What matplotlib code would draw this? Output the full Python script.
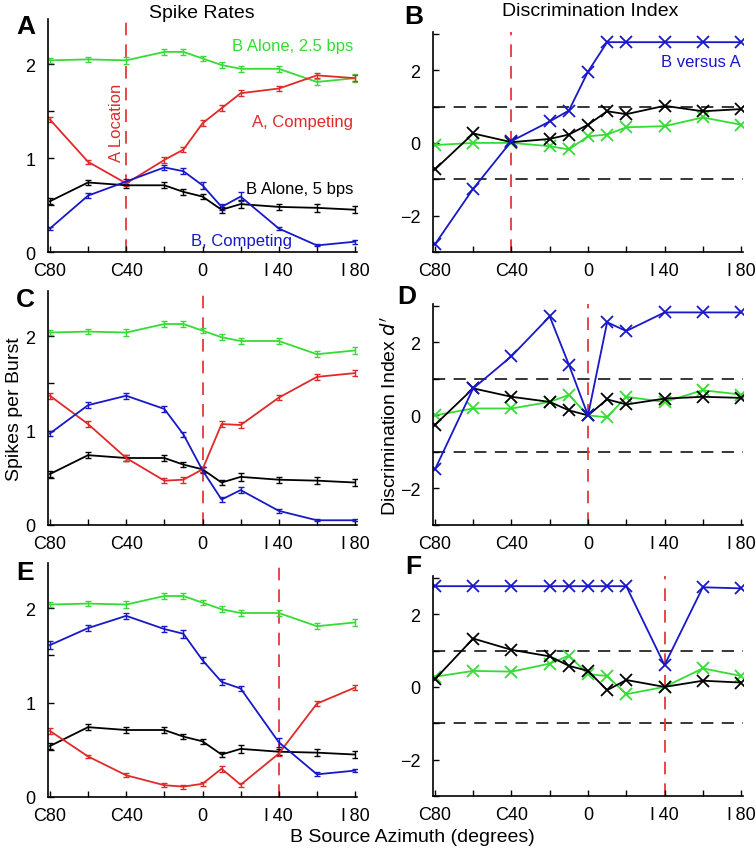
import numpy as np
import matplotlib
matplotlib.use("Agg")
import matplotlib.pyplot as plt

plt.rcParams['font.family'] = ['Liberation Sans', 'DejaVu Sans']

# azimuths of source B (negative = contralateral "C", positive = ipsilateral "I")
azim = [-80, -60, -40, -20, -10, 0, 10, 20, 40, 60, 80]
xtick_pos = [-80, -60, -40, -20, 0, 20, 40, 60, 80]
xtick_lab = ['C80', '', 'C40', '', '0', '', 'I\u200940', '', 'I\u200980']
a_location = [-40, 0, 40]

# B alone (same in every row)
b_alone_25 = [2.04, 2.05, 2.04, 2.13, 2.13, 2.06, 1.99, 1.95, 1.95, 1.81, 1.85]
b_alone_25_err = [0.03, 0.03, 0.04, 0.03, 0.03, 0.03, 0.03, 0.03, 0.03, 0.03, 0.04]
b_alone_5 = [0.54, 0.74, 0.71, 0.71, 0.64, 0.59, 0.45, 0.51, 0.48, 0.47, 0.45]
b_alone_5_err = [0.03, 0.03, 0.03, 0.03, 0.03, 0.03, 0.03, 0.04, 0.03, 0.04, 0.04]

# competing conditions, A at C40 / 0 / I40
a_comp = [
    [1.41, 0.96, 0.73, 0.98, 1.09, 1.37, 1.53, 1.69, 1.74, 1.88, 1.85],
    [1.37, 1.07, 0.71, 0.47, 0.48, 0.59, 1.07, 1.06, 1.35, 1.57, 1.61],
    [0.70, 0.43, 0.23, 0.125, 0.11, 0.14, 0.30, 0.13, 0.46, 0.99, 1.16],
]
a_comp_err = [
    [0.03, 0.02, 0.03, 0.03, 0.03, 0.03, 0.03, 0.03, 0.03, 0.03, 0.03],
    [0.03, 0.03, 0.03, 0.03, 0.03, 0.03, 0.03, 0.03, 0.03, 0.03, 0.03],
    [0.03, 0.02, 0.02, 0.02, 0.02, 0.02, 0.03, 0.02, 0.03, 0.03, 0.03],
]
b_comp = [
    [0.25, 0.60, 0.75, 0.90, 0.86, 0.71, 0.48, 0.59, 0.25, 0.07, 0.11],
    [0.97, 1.27, 1.37, 1.23, 0.96, 0.58, 0.27, 0.37, 0.15, 0.05, 0.05],
    [1.61, 1.79, 1.92, 1.78, 1.73, 1.45, 1.22, 1.15, 0.58, 0.24, 0.28],
]
b_comp_err = [
    [0.02, 0.03, 0.03, 0.03, 0.03, 0.04, 0.03, 0.05, 0.02, 0.01, 0.02],
    [0.03, 0.03, 0.03, 0.03, 0.03, 0.03, 0.03, 0.03, 0.02, 0.01, 0.01],
    [0.04, 0.03, 0.03, 0.03, 0.04, 0.03, 0.03, 0.03, 0.05, 0.02, 0.02],
]

# discrimination index d'
d_b_vs_a = [
    [-2.79, -1.26, 0.05, 0.59, 0.89, 1.96, 2.77, 2.77, 2.77, 2.77, 2.77],
    [-1.48, 0.74, 1.62, 2.71, 1.39, 0.0, 2.55, 2.31, 2.82, 2.82, 2.82],
    [2.77, 2.77, 2.77, 2.77, 2.77, 2.77, 2.77, 2.77, 0.60, 2.74, 2.71],
]
d_black = [
    [-0.73, 0.26, 0.02, 0.11, 0.23, 0.50, 0.87, 0.79, 1.02, 0.87, 0.93],
    [-0.26, 0.74, 0.51, 0.37, 0.14, 0.0, 0.44, 0.30, 0.46, 0.51, 0.48],
    [0.21, 1.33, 1.02, 0.84, 0.58, 0.44, -0.09, 0.19, 0.0, 0.17, 0.12],
]
d_green = [
    [-0.06, 0.0, 0.0, -0.09, -0.18, 0.18, 0.23, 0.43, 0.46, 0.70, 0.50],
    [0.0, 0.19, 0.19, 0.37, 0.56, 0.0, -0.05, 0.51, 0.37, 0.69, 0.57],
    [0.28, 0.44, 0.42, 0.64, 0.86, 0.35, 0.30, -0.20, 0.0, 0.51, 0.30],
]

green = '#35dc35'
red = '#e02a2a'
blue = '#1818c8'
dashred = '#e03a3a'

W, H = 756, 853
fig = plt.figure(figsize=(W / 100, H / 100), dpi=100)

def px_axes(x0, y0, x1, y1):
    return fig.add_axes([x0 / W, 1 - y1 / H, (x1 - x0) / W, (y1 - y0) / H])

left_rows = [(20, 253), (292, 526), (564, 798)]
right_rows = [(33, 253), (305, 526), (577, 797)]

def style(ax):
    for s in ['top', 'right']:
        ax.spines[s].set_visible(False)
    ax.spines['left'].set_linewidth(1.2)
    ax.spines['bottom'].set_linewidth(1.2)
    ax.tick_params(direction='in', length=4, width=1, labelsize=13)
    ax.tick_params(axis='x', pad=7)
    ax.tick_params(axis='y', pad=9)
    ax.set_xlim(-81, 81)
    ax.set_xticks(xtick_pos)
    ax.set_xticklabels(xtick_lab)

for i in range(3):
    # spike rates
    ax = px_axes(48, left_rows[i][0], 357, left_rows[i][1])
    style(ax)
    ax.set_ylim(0, 2.48)
    ax.set_yticks([0, 0.5, 1, 1.5, 2])
    ax.set_yticklabels(['0', '', '1', '', '2'])
    ax.axvline(a_location[i], color=dashred, lw=1.3, dashes=(7, 5), zorder=1)
    eb = dict(capsize=2.2, elinewidth=1, capthick=1, lw=1.3)
    ax.errorbar(azim, b_alone_25, yerr=b_alone_25_err, color=green, **eb)
    ax.errorbar(azim, b_alone_5, yerr=b_alone_5_err, color='black', **eb)
    ax.errorbar(azim, a_comp[i], yerr=a_comp_err[i], color=red, **eb)
    ax.errorbar(azim, b_comp[i], yerr=b_comp_err[i], color=blue, **eb)
    if i == 0:
        ax.text(79, 2.2, 'B Alone, 2.5 bps', color=green, fontsize=12,
                ha='right', va='center')
        ax.text(79, 1.39, 'A, Competing', color=red, fontsize=12,
                ha='right', va='center')
        ax.text(79, 0.68, 'B Alone, 5 bps', color='black', fontsize=12,
                ha='right', va='center')
        ax.text(47, 0.12, 'B, Competing', color=blue, fontsize=12,
                ha='right', va='center')
        ax.text(-45, 1.38, 'A Location', color=red, fontsize=12,
                rotation=90, ha='center', va='center')
    if i == 1:
        ax.set_ylabel('Spikes per Burst', fontsize=14, labelpad=2)

    # discrimination index
    ax = px_axes(433, right_rows[i][0], 743, right_rows[i][1])
    style(ax)
    ax.set_ylim(-3, 3.05)
    ax.set_yticks([-3, -2, -1, 0, 1, 2, 3])
    ax.set_yticklabels(['', '\u22122', '', '0', '', '2', ''])
    ax.axhline(1, color='black', lw=1.1, dashes=(8, 5.5), zorder=1)
    ax.axhline(-1, color='black', lw=1.1, dashes=(8, 5.5), zorder=1)
    ax.axvline(a_location[i], color=dashred, lw=1.3, dashes=(7, 5), zorder=1)
    mk = dict(marker='x', markersize=9, mew=1.3, lw=1.3)
    ax.plot(azim, d_green[i], color=green, **mk)
    ax.plot(azim, d_black[i], color='black', **mk)
    ax.plot(azim, d_b_vs_a[i], color=blue, **mk)
    if i == 0:
        ax.text(80, 2.25, 'B versus A', color=blue, fontsize=12,
                ha='right', va='center')
    if i == 1:
        ax.set_ylabel("Discrimination Index $d'$", fontsize=14, labelpad=0)

fig.text(202 / W, 1 - 13 / H, 'Spike Rates', fontsize=14, ha='center', va='center')
fig.text(590 / W, 1 - 12 / H, 'Discrimination Index', fontsize=14, ha='center', va='center')
fig.text(412 / W, 1 - 838 / H, 'B Source Azimuth (degrees)', fontsize=14,
         ha='center', va='center')

letters = [('A', 26, 27), ('B', 414, 17), ('C', 25, 300),
           ('D', 407, 297), ('E', 25, 573), ('F', 413, 567)]
for lab, lx, ly in letters:
    fig.text(lx / W, 1 - ly / H, lab, fontsize=19, fontweight='bold',
             ha='center', va='center')

fig.savefig('out.png', dpi=100)
